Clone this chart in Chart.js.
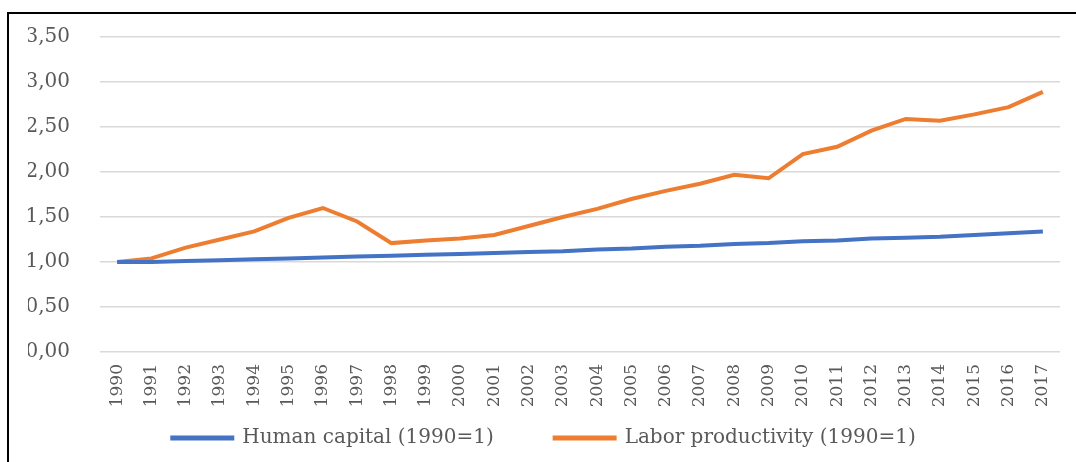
<!DOCTYPE html>
<html>
<head>
<meta charset="utf-8">
<script src="https://cdn.jsdelivr.net/npm/chart.js@4.4.0/dist/chart.umd.min.js"></script>
<style>
  html, body { margin: 0; padding: 0; background: #fff; overflow: hidden; }
  .frame { position: absolute; left: 7px; top: 12px; width: 1100px; height: 500px; border: 2px solid #000; box-sizing: border-box; }
  .wrap { position: absolute; left: 0; top: -5px; width: 1076px; height: 467px; }
</style>
</head>
<body>
<div class="frame"></div>
<div class="wrap"><canvas id="myChart" width="1076" height="467"></canvas></div>
<script>
const years = ["1990","1991","1992","1993","1994","1995","1996","1997","1998","1999","2000","2001","2002","2003",
               "2004","2005","2006","2007","2008","2009","2010","2011","2012","2013","2014","2015","2016","2017"];
const humanCapital = [1.00,1.00,1.01,1.02,1.03,1.04,1.05,1.06,1.07,1.08,1.09,1.10,1.11,1.12,
                      1.14,1.15,1.17,1.18,1.20,1.21,1.23,1.24,1.26,1.27,1.28,1.30,1.32,1.34];
const laborProductivity = [1.00,1.04,1.16,1.25,1.34,1.49,1.60,1.45,1.21,1.24,1.26,1.30,1.40,1.50,
                           1.59,1.70,1.79,1.87,1.97,1.93,2.20,2.28,2.46,2.59,2.57,2.64,2.72,2.89];
const yTicks = [0, 0.5, 1, 1.5, 2, 2.5, 3, 3.5];

const font = "'DejaVu Serif', 'Liberation Serif', serif";
const grey = "#595959";

const ctx = document.getElementById('myChart');
const myChart = new Chart(ctx, {
    type: 'line',
    data: {
        labels: years,
        datasets: [{
            label: 'Human capital (1990=1)',
            data: humanCapital,
            borderColor: '#4472C4',
            backgroundColor: '#4472C4',
            borderWidth: 4,
            pointRadius: 0,
            tension: 0
        }, {
            label: 'Labor productivity (1990=1)',
            data: laborProductivity,
            borderColor: '#ED7D31',
            backgroundColor: '#ED7D31',
            borderWidth: 4,
            pointRadius: 0,
            tension: 0
        }]
    },
    options: {
        responsive: false,
        animation: false,
        layout: { padding: { left: 28, right: 16, top: 20, bottom: 4 } },
        plugins: {
            tooltip: { enabled: false },
            legend: {
                position: 'bottom',
                labels: {
                    boxWidth: 60,
                    boxHeight: 1,
                    padding: 10,
                    color: grey,
                    font: { family: font, size: 20 },
                    generateLabels: function(chart) {
                        let items = Chart.defaults.plugins.legend.labels.generateLabels(chart);
                        // extra room after the first item, like the gap in the original
                        items[0].text = items[0].text + "\u00a0\u00a0\u00a0\u00a0\u00a0\u00a0\u00a0\u00a0";
                        return items;
                    }
                }
            }
        },
        scales: {
            x: {
                offset: true,
                grid: { display: false },
                border: { display: false },
                ticks: {
                    minRotation: 90,
                    maxRotation: 90,
                    autoSkip: false,
                    padding: 4,
                    color: grey,
                    font: { family: font, size: 17 }
                },
                afterFit: function(scale) { scale.height = 66; }
            },
            y: {
                min: 0,
                max: 3.5,
                afterBuildTicks: function(scale) { scale.ticks = yTicks.map(v => ({ value: v })); },
                grid: { color: '#d9d9d9', lineWidth: 1.5, drawTicks: false },
                border: { display: false },
                ticks: {
                    padding: 30,
                    color: grey,
                    font: { family: font, size: 20 },
                    callback: function(v) { return v.toFixed(2).replace('.', ','); }
                },
                afterFit: function(scale) { scale.width = 72; }
            }
        }
    }
});
</script>
</body>
</html>
